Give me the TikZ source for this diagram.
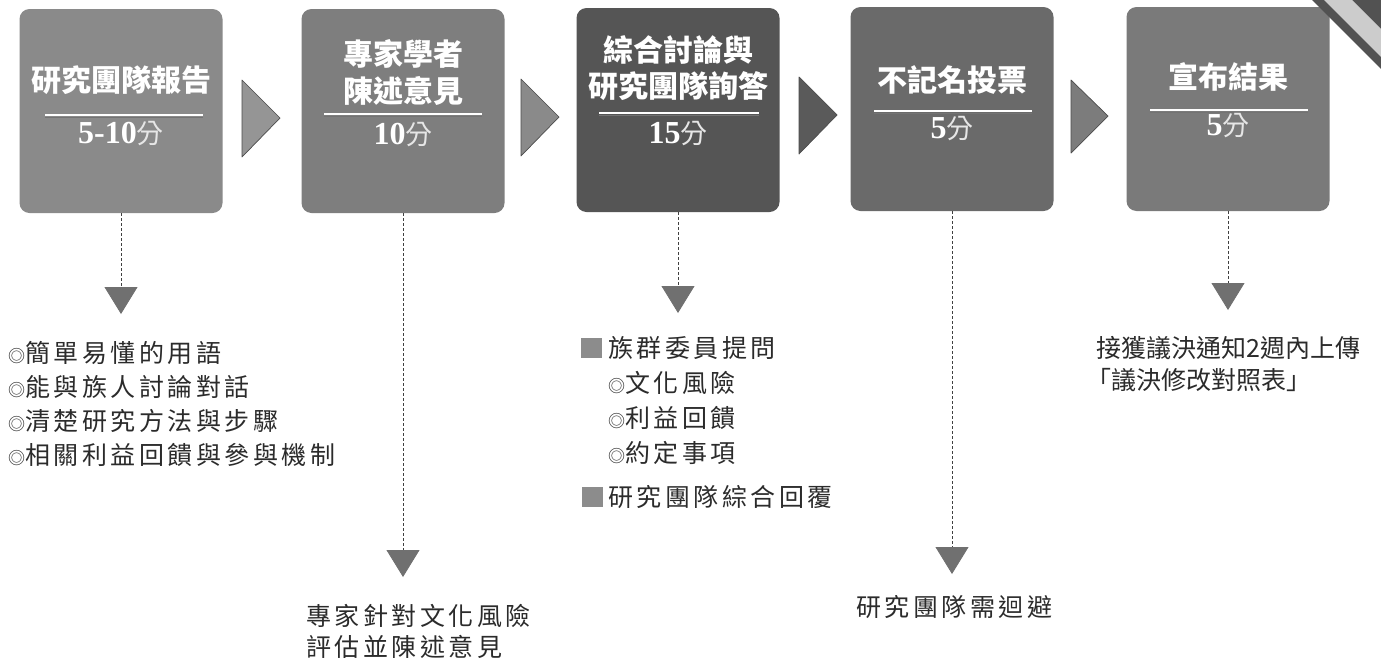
\documentclass[tikz,border=0pt]{standalone}
\usepackage{fontspec}
\setmainfont{Liberation Serif}
\newfontfamily\cjk{Noto Sans CJK TC}
\newfontfamily\cjksp[LetterSpace=14]{Noto Sans CJK TC}
\usetikzlibrary{arrows.meta}
\definecolor{gA}{HTML}{8A8A8A}
\definecolor{gB}{HTML}{7E7E7E}
\definecolor{gC}{HTML}{555555}
\definecolor{gD}{HTML}{6A6A6A}
\definecolor{gE}{HTML}{7A7A7A}
\definecolor{aA}{HTML}{959595}
\definecolor{aB}{HTML}{8A8A8A}
\definecolor{aC}{HTML}{5A5A5A}
\definecolor{aD}{HTML}{7C7C7C}
\definecolor{tri}{HTML}{707070}
\definecolor{sqc}{HTML}{8C8C8C}
\definecolor{txtc}{HTML}{2B2B2B}
\definecolor{fenc}{HTML}{E6E6E6}
\newcommand\myring{{\fontsize{17}{20}\selectfont ◎}}
\newcommand\myfen{{\cjk\mdseries\fontsize{27}{29}\selectfont\textcolor{fenc}{分}}}
\begin{document}
\begin{tikzpicture}[x=1pt,y=-1pt,
  stepbox/.style={rectangle, rounded corners=10pt, minimum width=203pt, minimum height=204pt, inner sep=0pt},
  ttl/.style={text=white, font=\cjk\bfseries\fontsize{30}{36.5}\selectfont, align=center, inner sep=0pt},
  tm/.style={text=white, inner sep=0pt, font=\bfseries\fontsize{32}{34}\selectfont},
  sepline/.style={draw=white, line width=2.6pt},
  sepshadow/.style={draw=black!55, line width=1pt},
  chev/.style={draw=black!70, line width=0.7pt, line join=round},
  dlink/.style={draw=black!75, line width=0.8pt, dash pattern=on 3pt off 2pt, -{Triangle[width=33pt,length=27pt,color=tri]}},
  txt/.style={anchor=base west, inner sep=0pt, text=txtc, font=\cjksp\fontsize{25}{30}\selectfont},
  txtn/.style={anchor=base west, inner sep=0pt, text=txtc, font=\cjk\fontsize{25}{30}\selectfont},
  sq/.style={rectangle, fill=sqc, minimum width=21pt, minimum height=20pt, inner sep=0pt}
]
\fill[white] (0,0) rectangle (1381,659);
\useasboundingbox (0,0) rectangle (1381,659);

% boxes
\node[stepbox, fill=gA] (b1) at (121,111) {};
\node[stepbox, fill=gB] (b2) at (403,111) {};
\node[stepbox, fill=gC] (b3) at (678,110) {};
\node[stepbox, fill=gD] (b4) at (952,109) {};
\node[stepbox, fill=gE] (b5) at (1228,109) {};

% titles
\node[ttl] (t1) at (121,80) {研究團隊報告};
\node[ttl] (t2) at (403,72.5) {專家學者\\陳述意見};
\node[ttl] (t3) at (678,68) {綜合討論與\\研究團隊詢答};
\node[ttl] (t4) at (952,80) {不記名投票};
\node[ttl] (t5) at (1228,77) {宣布結果};

% separator lines
\draw[sepshadow] (45,117.5) -- (203,117.5);
\draw[sepline] (45,115) -- (203,115);
\draw[sepshadow] (324,116.5) -- (482,116.5);
\draw[sepline] (324,114) -- (482,114);
\draw[sepshadow] (599,115.5) -- (759,115.5);
\draw[sepline] (599,113) -- (759,113);
\draw[sepshadow] (874,113.5) -- (1032,113.5);
\draw[sepline] (874,111) -- (1032,111);
\draw[sepshadow] (1150,112.5) -- (1308,112.5);
\draw[sepline] (1150,110) -- (1308,110);

% times
\node[tm] (m1) at (121,134) {5-10\myfen};
\node[tm] (m2) at (403,135) {10\myfen};
\node[tm] (m3) at (678,134) {15\myfen};
\node[tm] (m4) at (952,129) {5\myfen};
\node[tm] (m5) at (1228,126) {5\myfen};

% chevrons
\filldraw[chev, fill=aA] (242,80) -- (280,118) -- (242,157) -- cycle;
\filldraw[chev, fill=aB] (521,79) -- (559,117) -- (521,156) -- cycle;
\filldraw[chev, fill=aC] (799,77) -- (837,115) -- (799,154) -- cycle;
\filldraw[chev, fill=aD] (1071,80) -- (1108,116) -- (1071,153) -- cycle;

% connector ends
\coordinate (e1) at (121,314);
\coordinate (e2) at (403,577);
\coordinate (e3) at (678,313);
\coordinate (e4) at (952,574);
\coordinate (e5) at (1228,310);
\draw[dlink] (b1.south) -- (e1);
\draw[dlink] (b2.south) -- (e2);
\draw[dlink] (b3.south) -- (e3);
\draw[dlink] (b4.south) -- (e4);
\draw[dlink] (b5.south) -- (e5);

% texts under box 1
\node[txt] (l11) at (8,362) {\myring 簡單易懂的用語};
\node[txt] (l12) at (8,396) {\myring 能與族人討論對話};
\node[txt] (l13) at (8,430) {\myring 清楚研究方法與步驟};
\node[txt] (l14) at (8,464) {\myring 相關利益回饋與參與機制};

% texts under box 2
\node[txt] (l21) at (306,625) {專家針對文化風險};
\node[txt] (l22) at (306,656) {評估並陳述意見};

% texts under box 3
\node[sq] (q1) at (591.5,348) {};
\node[sq] (q2) at (592,497) {};
\node[txt] (l31) at (608,357.5) {族群委員提問};
\node[txt] (l32) at (608,392.5) {\myring 文化風險};
\node[txt] (l33) at (608,427.5) {\myring 利益回饋};
\node[txt] (l34) at (608,462.5) {\myring 約定事項};
\node[txt] (l35) at (608,506.5) {研究團隊綜合回覆};

% text under box 4
\node[txt] (l41) at (856,616.5) {研究團隊需迴避};

% text under box 5
\node[txtn] (l51) at (1096,357.5) {接獲議決通知2週內上傳};
\node[txtn] (l52) at (1086,389.5) {「議決修改對照表」};

% corner ribbon
\fill[black!68] (1312,0) -- (1381,0) -- (1381,69) -- cycle;
\fill[black!20] (1324,0) -- (1352,0) -- (1381,29) -- (1381,57) -- cycle;
\end{tikzpicture}
\end{document}
